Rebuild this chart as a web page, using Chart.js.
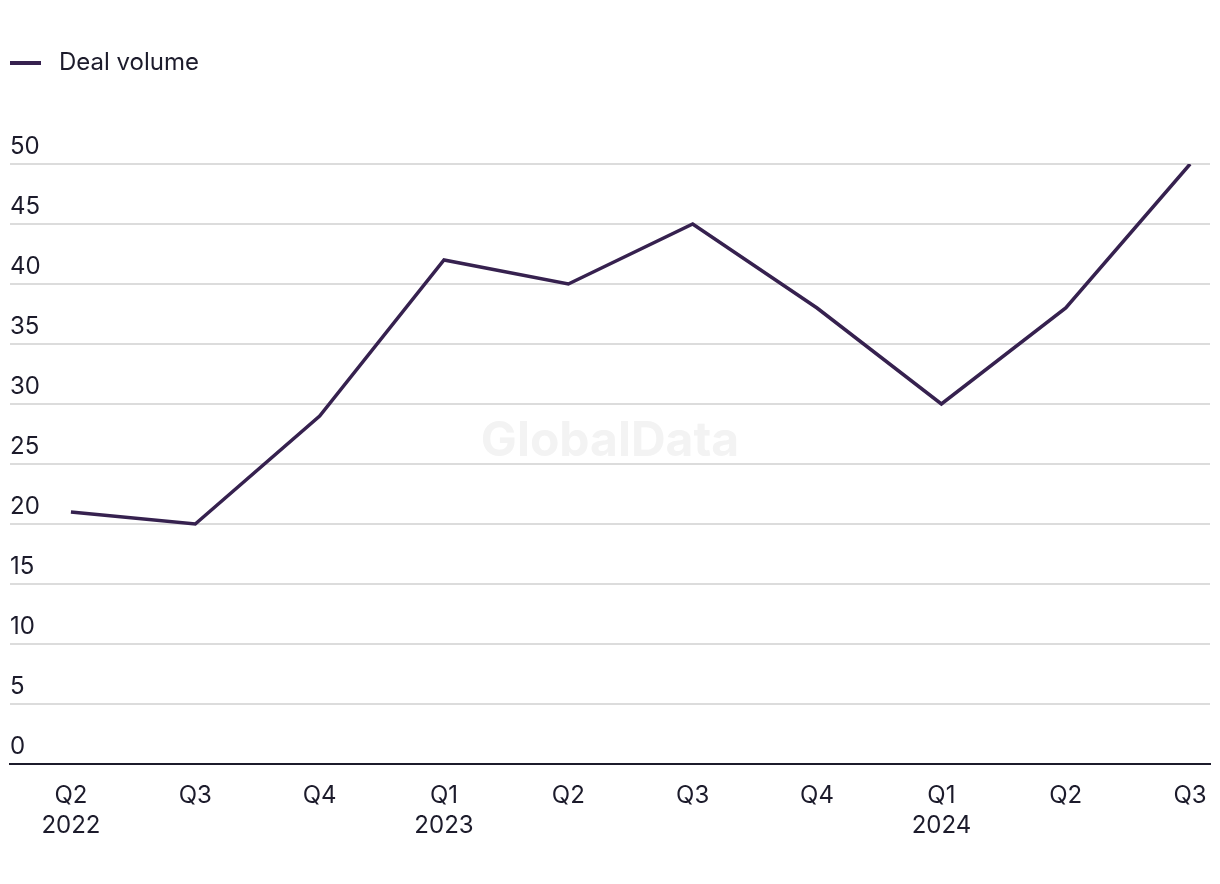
<!DOCTYPE html>
<html lang="en">
<head>
    <meta charset="UTF-8">
    <title>Deal volume</title>
    <style>
        html, body {
            margin: 0;
            padding: 0;
            background: #ffffff;
        }
        #wrap {
            width: 1220px;
            height: 884px;
        }
    </style>
</head>
<body>
    <div id="wrap"><canvas id="dealChart" width="1220" height="884"></canvas></div>

    <script src="https://cdn.jsdelivr.net/npm/chart.js"></script>
    <script>
        // values
        const quarters = ['Q2', 'Q3', 'Q4', 'Q1', 'Q2', 'Q3', 'Q4', 'Q1', 'Q2', 'Q3'];
        const years = ['2022', '', '', '2023', '', '', '', '2024', '', ''];
        const dealVolume = [21, 20, 29, 42, 40, 45, 38, 30, 38, 50];
        const yTicks = [0, 5, 10, 15, 20, 25, 30, 35, 40, 45, 50];

        const xLabels = quarters.map((q, i) => years[i] ? [q, years[i]] : q);

        const textColor = '#1c1b2b';
        const lineColor = '#36214f';
        const font = 'Inter, "Noto Sans", sans-serif';

        // legend swatch: short thick line with some space after it
        const swatch = document.createElement('canvas');
        swatch.width = 37;
        swatch.height = 6;
        const sctx = swatch.getContext('2d');
        sctx.fillStyle = lineColor;
        sctx.fillRect(0, 1, 31, 4);

        // faint watermark behind the line
        const watermark = {
            id: 'watermark',
            beforeDatasetsDraw(chart) {
                const { ctx, chartArea } = chart;
                ctx.save();
                ctx.font = 'bold 48px ' + font;
                ctx.fillStyle = '#f3f3f3';
                ctx.textAlign = 'center';
                ctx.textBaseline = 'middle';
                ctx.fillText('GlobalData', (chartArea.left + chartArea.right) / 2, chartArea.top + chartArea.height * 0.463);
                ctx.restore();
            }
        };

        // make room between legend and plot
        const legendGap = {
            id: 'legendGap',
            beforeInit(chart) {
                const fit = chart.legend.fit;
                chart.legend.fit = function () {
                    fit.bind(chart.legend)();
                    this.height = 113;
                };
            }
        };

        new Chart(document.getElementById('dealChart'), {
            type: 'line',
            data: {
                datasets: [{
                    label: 'Deal volume',
                    data: dealVolume.map((v, i) => ({ x: i, y: v })),
                    borderColor: lineColor,
                    backgroundColor: lineColor,
                    borderWidth: 3.5,
                    pointRadius: 0,
                    pointStyle: swatch,
                    tension: 0,
                    fill: false
                }]
            },
            options: {
                responsive: false,
                animation: false,
                layout: {
                    padding: { left: 10, right: 10, top: 51, bottom: 26 }
                },
                plugins: {
                    legend: {
                        position: 'top',
                        align: 'start',
                        labels: {
                            usePointStyle: true,
                            pointStyleWidth: 37,
                            padding: 0,
                            color: textColor,
                            font: { family: font, size: 24 }
                        }
                    },
                    tooltip: { enabled: false }
                },
                scales: {
                    x: {
                        type: 'linear',
                        min: -0.49,
                        max: 9.16,
                        afterBuildTicks: s => { s.ticks = quarters.map((_, i) => ({ value: i })); },
                        afterFit: s => { s.paddingLeft = 0; s.paddingRight = 0; },
                        grid: { display: false, drawTicks: false },
                        border: { display: true, color: textColor, width: 2 },
                        ticks: {
                            autoSkip: false,
                            maxRotation: 0,
                            padding: 17,
                            color: textColor,
                            font: { family: font, size: 24, lineHeight: 1.25 },
                            callback: v => xLabels[v]
                        }
                    },
                    y: {
                        min: 0,
                        max: 50,
                        afterBuildTicks: s => { s.ticks = yTicks.map(v => ({ value: v })); },
                        grid: { color: '#dcdcdc', lineWidth: 2, drawTicks: false },
                        border: { display: false },
                        ticks: {
                            mirror: true,
                            padding: 0,
                            labelOffset: -17,
                            color: textColor,
                            font: { family: font, size: 24 }
                        }
                    }
                }
            },
            plugins: [watermark, legendGap]
        });
    </script>
</body>
</html>
